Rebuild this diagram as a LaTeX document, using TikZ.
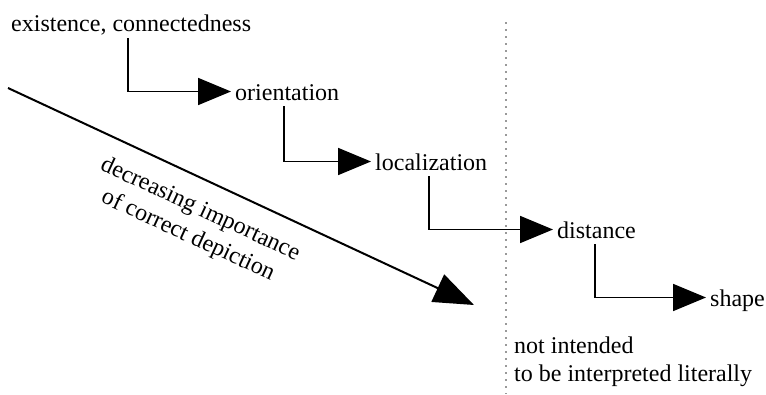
\documentclass[tikz,border=0pt]{standalone}
\usepackage{fontspec}
\setmainfont{Liberation Serif}
\usetikzlibrary{arrows.meta,calc}
\begin{document}
\begin{tikzpicture}[x=1pt,y=-1pt,
  lbl/.style={anchor=base west,inner xsep=4pt,inner ysep=0pt,font=\fontsize{24}{29}\selectfont},
  conn/.style={line width=1.8pt,-{Triangle[length=33pt,width=27pt]}},
  dotline/.style={line width=1.6pt,gray!80,dash pattern=on 1.6pt off 5.4pt}]
\useasboundingbox (0,0) rectangle (766,394);
\node[lbl] (exist) at (7,31) {existence, connectedness};
\node[lbl] (orient) at (231,100) {orientation};
\node[lbl] (local) at (371,170) {localization};
\node[lbl] (dist) at (553,238) {distance};
\node[lbl] (shape) at (706,306) {shape};
\node[lbl] (note) at (510,353) {not intended};
\node[lbl] (note2) at (510,381) {to be interpreted literally};
\coordinate (c1) at (128,38);
\coordinate (c2) at (284,106);
\coordinate (c3) at (429,176);
\coordinate (c4) at (595,244);
\draw[conn] (c1) |- ([yshift=8.5pt]orient.base west);
\draw[conn] (c2) |- ([yshift=8.5pt]local.base west);
\draw[conn] (c3) |- ([yshift=8.5pt]dist.base west);
\draw[conn] (c4) |- ([yshift=8.5pt]shape.base west);
\coordinate (d0) at (8,88);
\coordinate (d1) at (474,305);
\draw[line width=2pt,-{Triangle[length=40pt,width=30pt]}] (d0) -- (d1);
\node[font=\fontsize{24}{29}\selectfont,align=center,rotate=-24.8,inner sep=0pt] (dec) at (194,223) {decreasing importance\\of correct depiction};
\coordinate (v0) at (506,22);
\coordinate (v1) at (506,394);
\draw[dotline] (v0) -- (v1);
\end{tikzpicture}
\end{document}
